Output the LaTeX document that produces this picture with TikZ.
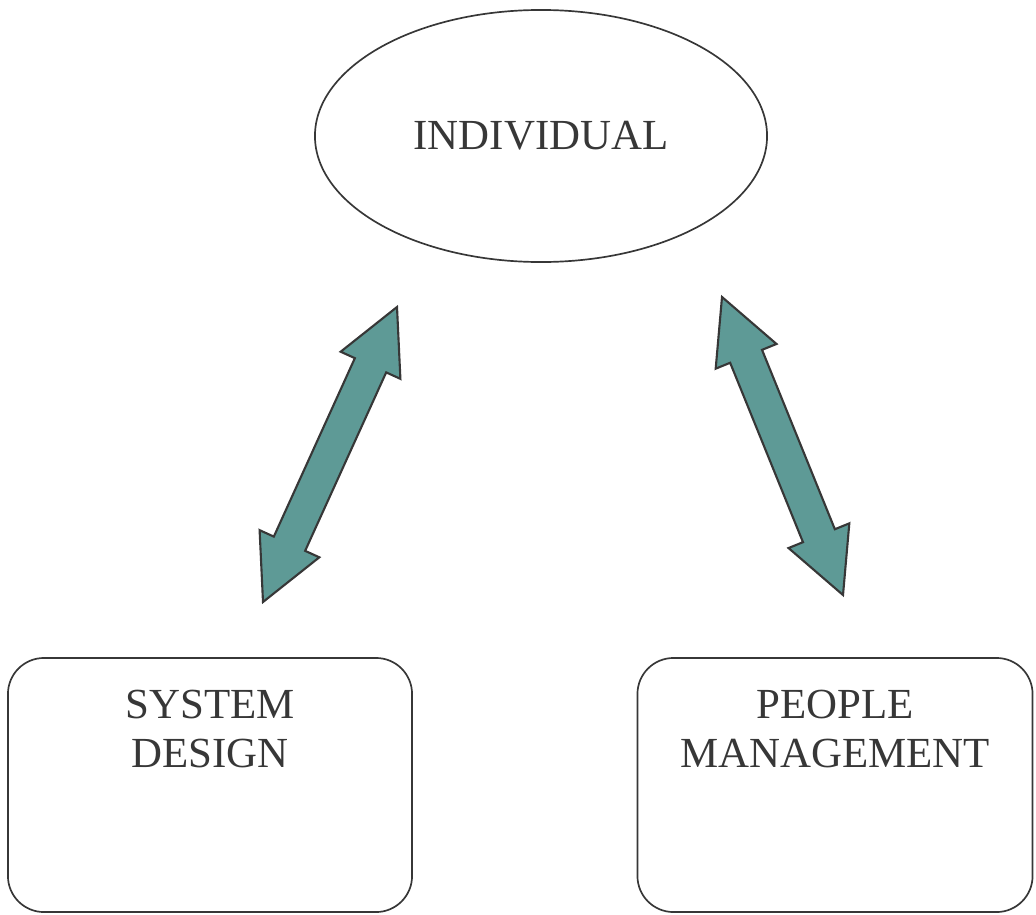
\documentclass[tikz,border=0pt]{standalone}
\usepackage{fontspec}
\setmainfont{Liberation Serif}
\usetikzlibrary{shapes.geometric,calc,positioning}
\definecolor{arrowteal}{RGB}{94,154,150}
\definecolor{inkgrey}{RGB}{55,55,55}

\begin{document}
\begin{tikzpicture}[x=0.025cm,y=-0.025cm,line width=1.2pt,
    oval node/.style={ellipse,draw=inkgrey,minimum width=11.3cm,minimum height=6.3cm,inner sep=0pt},
    box node/.style={rectangle,rounded corners=0.9cm,draw=inkgrey,minimum height=6.35cm,inner sep=0pt},
    text node/.style={align=center,text=inkgrey,font=\fontsize{30.5}{35.5}\selectfont},
    link arrow/.style={fill=arrowteal,draw=inkgrey,line width=1.5pt,line join=miter}]
            \useasboundingbox (0,0) rectangle (1036,914);

            \node[oval node,text node] (ind) at (541,136) {INDIVIDUAL};

            \node[box node,minimum width=10.1cm] (sys) at (210,785) {};
            \node[box node,minimum width=9.875cm] (ppl) at (835,785) {};
            \node[text node] (sysText) at (210,729) {SYSTEM\\DESIGN};
            \node[text node] (pplText) at (835,729) {PEOPLE\\MANAGEMENT};

            % two-headed arrows between the ellipse and the boxes
            \coordinate (sysTop) at (397,307);
            \coordinate (sysEnd) at (263,602);
            \coordinate (pplTop) at (722,297);
            \coordinate (pplEnd) at (843,595);

            \foreach \a/\b in {sysTop/sysEnd, pplTop/pplEnd}{
                \coordinate (na) at ($(\a)!1.6cm!(\b)$);
                \coordinate (nb) at ($(\b)!1.6cm!(\a)$);
                \draw[link arrow] (\a) -- ($(na)!0.82cm!90:(\b)$) -- ($(na)!0.43cm!90:(\b)$)
                    -- ($(nb)!0.43cm!-90:(\a)$) -- ($(nb)!0.82cm!-90:(\a)$) -- (\b)
                    -- ($(nb)!0.82cm!90:(\a)$) -- ($(nb)!0.43cm!90:(\a)$)
                    -- ($(na)!0.43cm!-90:(\b)$) -- ($(na)!0.82cm!-90:(\b)$) -- cycle;
            }
\end{tikzpicture}
\end{document}
